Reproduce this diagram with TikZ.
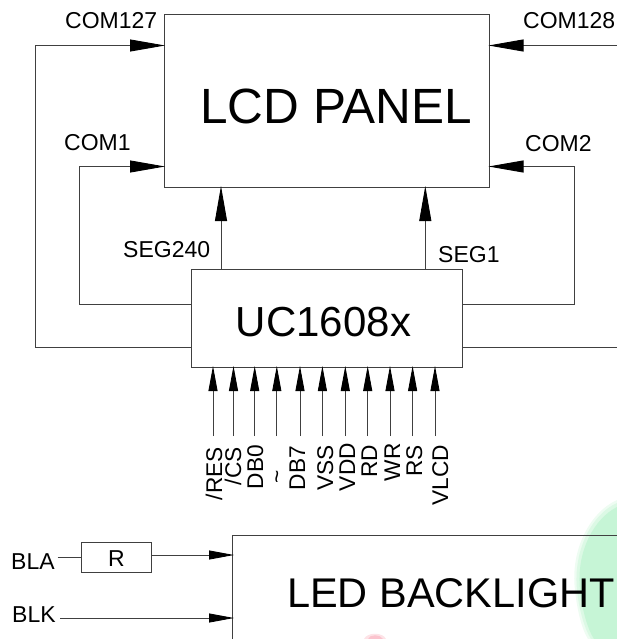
\documentclass[tikz,border=0pt]{standalone}
\usepackage{fontspec}
\setmainfont{Liberation Sans}
\usetikzlibrary{arrows.meta}
\definecolor{gA}{HTML}{EEFCF2}
\definecolor{gB}{HTML}{DCF9E5}
\definecolor{gC}{HTML}{C6F5D6}
\definecolor{pA}{HTML}{FDE3E7}
\definecolor{pB}{HTML}{FBC4CE}
\tikzset{
  ln/.style={draw=black!75,line width=0.9pt},
  arr/.style={ln,-{Triangle[length=25pt,width=9pt,fill=black,color=black]}},
  arrs/.style={ln,-{Triangle[length=35pt,width=12pt,fill=black,color=black]}},
  box/.style={draw=black!75,line width=0.9pt,fill=none,inner sep=0pt,outer sep=0pt,minimum width=#1},
  lbl/.style={inner sep=0pt,font=\fontsize{23}{23}\selectfont,text=black},
  pinlbl/.style={inner sep=0pt,font=\fontsize{22.7}{23}\selectfont,rotate=90,anchor=base east,text=black},
}
\begin{document}
\begin{tikzpicture}[x=1pt,y=-1pt]
\useasboundingbox (0,0) rectangle (617,639);
\clip (0,0) rectangle (617,639);
% watermark
\fill[gA] (617,500) .. controls (590,512) and (570,550) .. (575,590) .. controls (577,610) and (582,630) .. (588,639) -- (617,639) -- cycle;
\fill[gB] (617,503) .. controls (592,514) and (573,550) .. (577,590) .. controls (579,610) and (585,630) .. (591,639) -- (617,639) -- cycle;
\fill[gC] (617,507) .. controls (595,518) and (576,550) .. (580,590) .. controls (582,610) and (588,630) .. (594,639) -- (617,639) -- cycle;
\fill[pA] (364,639) .. controls (367,632) and (383,632) .. (386,639) -- cycle;
\fill[pB] (368,639) .. controls (370,634) and (380,634) .. (383,639) -- cycle;
% boxes
\node[box=324.5pt,minimum height=173pt,anchor=north west] (lcd) at (164.5,14) {};
\node[box=271pt,minimum height=98.5pt,anchor=north west] (uc) at (191.5,269) {};
\node[box=70pt,minimum height=30pt,anchor=north west] (r) at (81.5,542) {};
\node[box=500pt,minimum height=200pt,anchor=north west] (led) at (232.3,535) {};
% titles
\node[inner sep=0pt,font=\fontsize{49.5}{49}\selectfont,anchor=base] (lcdt) at (336,124) {LCD PANEL};
\node[inner sep=0pt,font=\fontsize{42}{42}\selectfont,anchor=base] (uct) at (323.5,336) {UC1608x};
\node[inner sep=0pt,font=\fontsize{41.5}{42}\selectfont,anchor=base west] (ledt) at (287,607) {LED BACKLIGHT};
% COM
\coordinate (c127) at (35,45.5);
\coordinate (c1) at (79,166.5);
\coordinate (c128) at (617,45.5);
\coordinate (c2) at (574,166.5);
\coordinate (p127) at (165,45.5);
\coordinate (p1) at (165,166.5);
\coordinate (p128) at (488.5,45.5);
\coordinate (p2) at (488.5,166.5);
\coordinate (ul) at (191.5,347);
\coordinate (ul1) at (191.5,304);
\coordinate (ur) at (462.5,347);
\coordinate (ur1) at (462.5,304);
\coordinate (rout) at (617,347);
\draw[ln] (ul) -| (c127);
\draw[arrs] (c127) -- (p127);
\draw[ln] (ul1) -| (c1);
\draw[arrs] (c1) -- (p1);
\draw[arrs] (c128) -- (p128);
\draw[ln] (ur1) -| (c2);
\draw[arrs] (c2) -- (p2);
\draw[ln] (ur) -- (rout);
\node[lbl,anchor=base west] (l127) at (65,29) {COM127};
\node[lbl,anchor=base west] (l128) at (523,29) {COM128};
\node[lbl,anchor=base west] (l1) at (64,151) {COM1};
\node[lbl,anchor=base west] (l2) at (525,151.5) {COM2};
% SEG
\coordinate (s240u) at (221,269);
\coordinate (s240l) at (221,186);
\coordinate (s1u) at (425.3,269);
\coordinate (s1l) at (425.3,186);
\draw[arrs] (s240u) -- (s240l);
\draw[arrs] (s1u) -- (s1l);
\node[lbl,anchor=base west] (ls240) at (123,257.5) {SEG240};
\node[lbl,anchor=base west] (ls1) at (438,262) {SEG1};
% pins
\foreach \n/\x in {a/213,b/233.5,c/254.7,d/276.8,e/300,f/322.4,g/345.3,h/367.7,i/390,j/412.6,k/435}{
  \coordinate (b\n) at (\x,436);
  \coordinate (t\n) at (\x,366);
  \draw[arr] (b\n) -- (t\n);
}
\node[pinlbl] (na) at (222,447) {/RES};
\node[pinlbl] (nb) at (241,447) {/CS};
\node[pinlbl] (nc) at (263,445) {DB0};
\node[pinlbl] (ne) at (305,446) {DB7};
\node[pinlbl] (nf) at (333,445) {VSS};
\node[pinlbl] (ng) at (355,443) {VDD};
\node[pinlbl] (nh) at (377,445) {RD};
\node[pinlbl] (ni) at (400,443) {WR};
\node[pinlbl] (nj) at (422,445) {RS};
\node[pinlbl] (nk) at (448,445) {VLCD};
\node[inner sep=0pt,font=\fontsize{22.7}{23}\selectfont,rotate=90] (nd) at (280,477) {\char"7E};
% backlight
\node[lbl,anchor=base west] (bla) at (11,569) {BLA};
\node[lbl,anchor=base west] (blk) at (12,622) {BLK};
\node[lbl,anchor=base] (rt) at (116.5,566) {R};
\coordinate (r1) at (57.5,557);
\coordinate (r1e) at (81.5,557);
\coordinate (r2) at (151.5,555);
\coordinate (r2e) at (234,555);
\coordinate (k1) at (60,618);
\coordinate (k2) at (234,618);
\draw[ln] (r1) -- (r1e);
\draw[arr] (r2) -- (r2e);
\draw[arr] (k1) -- (k2);
\end{tikzpicture}
\end{document}
